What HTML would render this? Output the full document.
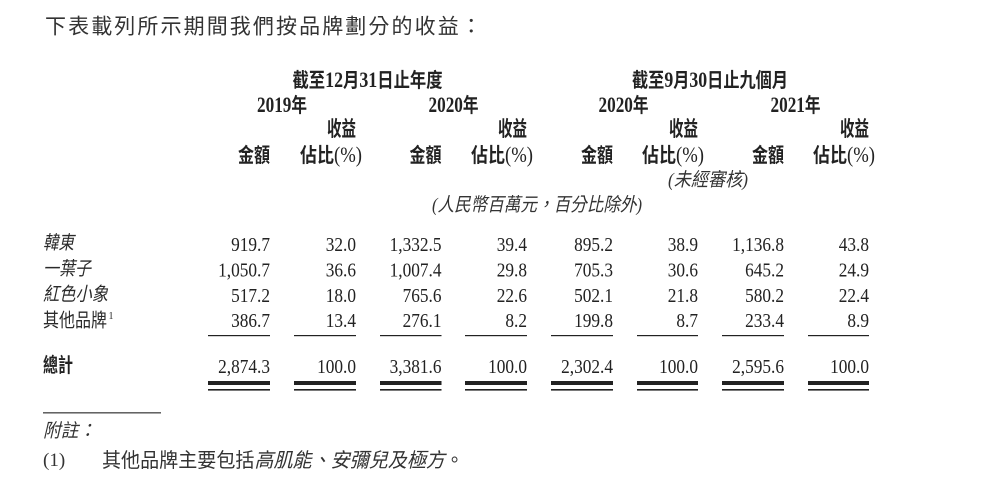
<!DOCTYPE html>
<html><head><meta charset="utf-8"><style>
html,body{margin:0;padding:0;background:#fff;}
svg{display:block;}
.cjk{font-family:"Liberation Serif","Noto Sans CJK TC","Noto Sans CJK SC",sans-serif;}
.num{font-family:"Liberation Serif",serif;font-size:20px;}
.lab{font-family:"Liberation Serif","Noto Sans CJK TC","Noto Sans CJK SC",sans-serif;font-size:19px;}
.hd{font-family:"Liberation Serif","Noto Sans CJK TC","Noto Sans CJK SC",sans-serif;font-weight:bold;}
</style></head><body>
<svg width="983" height="485" viewBox="0 0 983 485" xmlns="http://www.w3.org/2000/svg" fill="#222">
<!-- title -->
<text class="cjk" x="45" y="33.5" font-size="21" letter-spacing="2.1" fill="#333">下表載列所示期間我們按品牌劃分的收益：</text>

<!-- group headers -->
<text class="hd" x="367.5" y="87" text-anchor="middle" font-size="20" textLength="150" lengthAdjust="spacingAndGlyphs">截至<tspan font-size="22">12</tspan>月<tspan font-size="22">31</tspan>日止年度</text>
<text class="hd" x="710" y="87" text-anchor="middle" font-size="20" textLength="156" lengthAdjust="spacingAndGlyphs">截至<tspan font-size="22">9</tspan>月<tspan font-size="22">30</tspan>日止九個月</text>

<text class="hd" x="282" y="112" text-anchor="middle" font-size="20" textLength="50" lengthAdjust="spacingAndGlyphs"><tspan font-size="22">2019</tspan>年</text>
<text class="hd" x="453.5" y="112" text-anchor="middle" font-size="20" textLength="50" lengthAdjust="spacingAndGlyphs"><tspan font-size="22">2020</tspan>年</text>
<text class="hd" x="623.5" y="112" text-anchor="middle" font-size="20" textLength="50" lengthAdjust="spacingAndGlyphs"><tspan font-size="22">2020</tspan>年</text>
<text class="hd" x="795.5" y="112" text-anchor="middle" font-size="20" textLength="50" lengthAdjust="spacingAndGlyphs"><tspan font-size="22">2021</tspan>年</text>

<g class="hd" font-size="21">
<text x="356" y="136" text-anchor="end" textLength="29" lengthAdjust="spacingAndGlyphs">收益</text>
<text x="527" y="136" text-anchor="end" textLength="29" lengthAdjust="spacingAndGlyphs">收益</text>
<text x="698" y="136" text-anchor="end" textLength="29" lengthAdjust="spacingAndGlyphs">收益</text>
<text x="869" y="136" text-anchor="end" textLength="29" lengthAdjust="spacingAndGlyphs">收益</text>
</g>
<g class="hd" font-size="20">
<text x="270" y="162" text-anchor="end" textLength="32" lengthAdjust="spacingAndGlyphs">金額</text>
<text x="441.5" y="162" text-anchor="end" textLength="32" lengthAdjust="spacingAndGlyphs">金額</text>
<text x="613" y="162" text-anchor="end" textLength="32" lengthAdjust="spacingAndGlyphs">金額</text>
<text x="784" y="162" text-anchor="end" textLength="32" lengthAdjust="spacingAndGlyphs">金額</text>
<text x="362" y="162" text-anchor="end" textLength="62" lengthAdjust="spacingAndGlyphs">佔比<tspan font-size="22" font-weight="normal">(%)</tspan></text>
<text x="533" y="162" text-anchor="end" textLength="62" lengthAdjust="spacingAndGlyphs">佔比<tspan font-size="22" font-weight="normal">(%)</tspan></text>
<text x="704" y="162" text-anchor="end" textLength="62" lengthAdjust="spacingAndGlyphs">佔比<tspan font-size="22" font-weight="normal">(%)</tspan></text>
<text x="875" y="162" text-anchor="end" textLength="62" lengthAdjust="spacingAndGlyphs">佔比<tspan font-size="22" font-weight="normal">(%)</tspan></text>
</g>

<text class="lab" x="668" y="186" font-size="18.5" font-style="italic" textLength="80" lengthAdjust="spacingAndGlyphs" fill="#333">(未經審核)</text>
<text class="lab" x="432" y="211" font-size="18.5" font-style="italic" textLength="210" lengthAdjust="spacingAndGlyphs" fill="#333">(人民幣百萬元，百分比除外)</text>

<!-- row labels -->
<g class="lab" fill="#2a2a2a">
<text x="43" y="249" font-style="italic" textLength="31" lengthAdjust="spacingAndGlyphs">韓東</text>
<text x="43" y="275" font-style="italic" textLength="48" lengthAdjust="spacingAndGlyphs">一葉子</text>
<text x="43" y="300.5" font-style="italic" textLength="65" lengthAdjust="spacingAndGlyphs">紅色小象</text>
<text x="43" y="326.5" textLength="64" lengthAdjust="spacingAndGlyphs">其他品牌</text>
<text x="108.5" y="319" font-size="10" font-family="Liberation Serif">1</text>
</g>
<text class="hd" x="43" y="372" font-size="20" textLength="30" lengthAdjust="spacingAndGlyphs">總計</text>

<!-- numbers -->
<g class="num" text-anchor="end" fill="#222">
<g transform="translate(270,0) scale(0.865,1)"><text y="251">919.7</text><text y="276.5">1,050.7</text><text y="302">517.2</text><text y="327">386.7</text><text y="373">2,874.3</text></g>
<g transform="translate(356,0) scale(0.865,1)"><text y="251">32.0</text><text y="276.5">36.6</text><text y="302">18.0</text><text y="327">13.4</text><text y="373">100.0</text></g>
<g transform="translate(441.5,0) scale(0.865,1)"><text y="251">1,332.5</text><text y="276.5">1,007.4</text><text y="302">765.6</text><text y="327">276.1</text><text y="373">3,381.6</text></g>
<g transform="translate(527,0) scale(0.865,1)"><text y="251">39.4</text><text y="276.5">29.8</text><text y="302">22.6</text><text y="327">8.2</text><text y="373">100.0</text></g>
<g transform="translate(613,0) scale(0.865,1)"><text y="251">895.2</text><text y="276.5">705.3</text><text y="302">502.1</text><text y="327">199.8</text><text y="373">2,302.4</text></g>
<g transform="translate(698,0) scale(0.865,1)"><text y="251">38.9</text><text y="276.5">30.6</text><text y="302">21.8</text><text y="327">8.7</text><text y="373">100.0</text></g>
<g transform="translate(784,0) scale(0.865,1)"><text y="251">1,136.8</text><text y="276.5">645.2</text><text y="302">580.2</text><text y="327">233.4</text><text y="373">2,595.6</text></g>
<g transform="translate(869,0) scale(0.865,1)"><text y="251">43.8</text><text y="276.5">24.9</text><text y="302">22.4</text><text y="327">8.9</text><text y="373">100.0</text></g>
</g>

<!-- rules -->
<g fill="#222">
<rect x="208" y="335" width="62" height="1.2"/>
<rect x="294" y="335" width="62" height="1.2"/>
<rect x="380" y="335" width="61.5" height="1.2"/>
<rect x="465" y="335" width="62" height="1.2"/>
<rect x="551" y="335" width="62" height="1.2"/>
<rect x="637" y="335" width="61" height="1.2"/>
<rect x="722" y="335" width="62" height="1.2"/>
<rect x="808" y="335" width="61" height="1.2"/>

<rect x="208" y="381" width="62" height="4"/><rect x="208" y="389" width="62" height="1.6"/>
<rect x="294" y="381" width="62" height="4"/><rect x="294" y="389" width="62" height="1.6"/>
<rect x="380" y="381" width="61.5" height="4"/><rect x="380" y="389" width="61.5" height="1.6"/>
<rect x="465" y="381" width="62" height="4"/><rect x="465" y="389" width="62" height="1.6"/>
<rect x="551" y="381" width="62" height="4"/><rect x="551" y="389" width="62" height="1.6"/>
<rect x="637" y="381" width="61" height="4"/><rect x="637" y="389" width="61" height="1.6"/>
<rect x="722" y="381" width="62" height="4"/><rect x="722" y="389" width="62" height="1.6"/>
<rect x="808" y="381" width="61" height="4"/><rect x="808" y="389" width="61" height="1.6"/>

<rect x="43" y="412.3" width="118" height="1.1"/>
</g>

<!-- footnotes -->
<text class="lab" x="43" y="437" font-size="17.5" font-style="italic" textLength="53" lengthAdjust="spacingAndGlyphs" fill="#333">附註：</text>
<text x="43" y="466" font-family="Liberation Serif" font-size="19" fill="#333">(1)</text>
<text class="cjk" x="102" y="467" font-size="20" textLength="362" lengthAdjust="spacingAndGlyphs" fill="#333">其他品牌主要包括<tspan font-style="italic">高肌能、安彌兒及極方</tspan>。</text>
</svg>
</body></html>
